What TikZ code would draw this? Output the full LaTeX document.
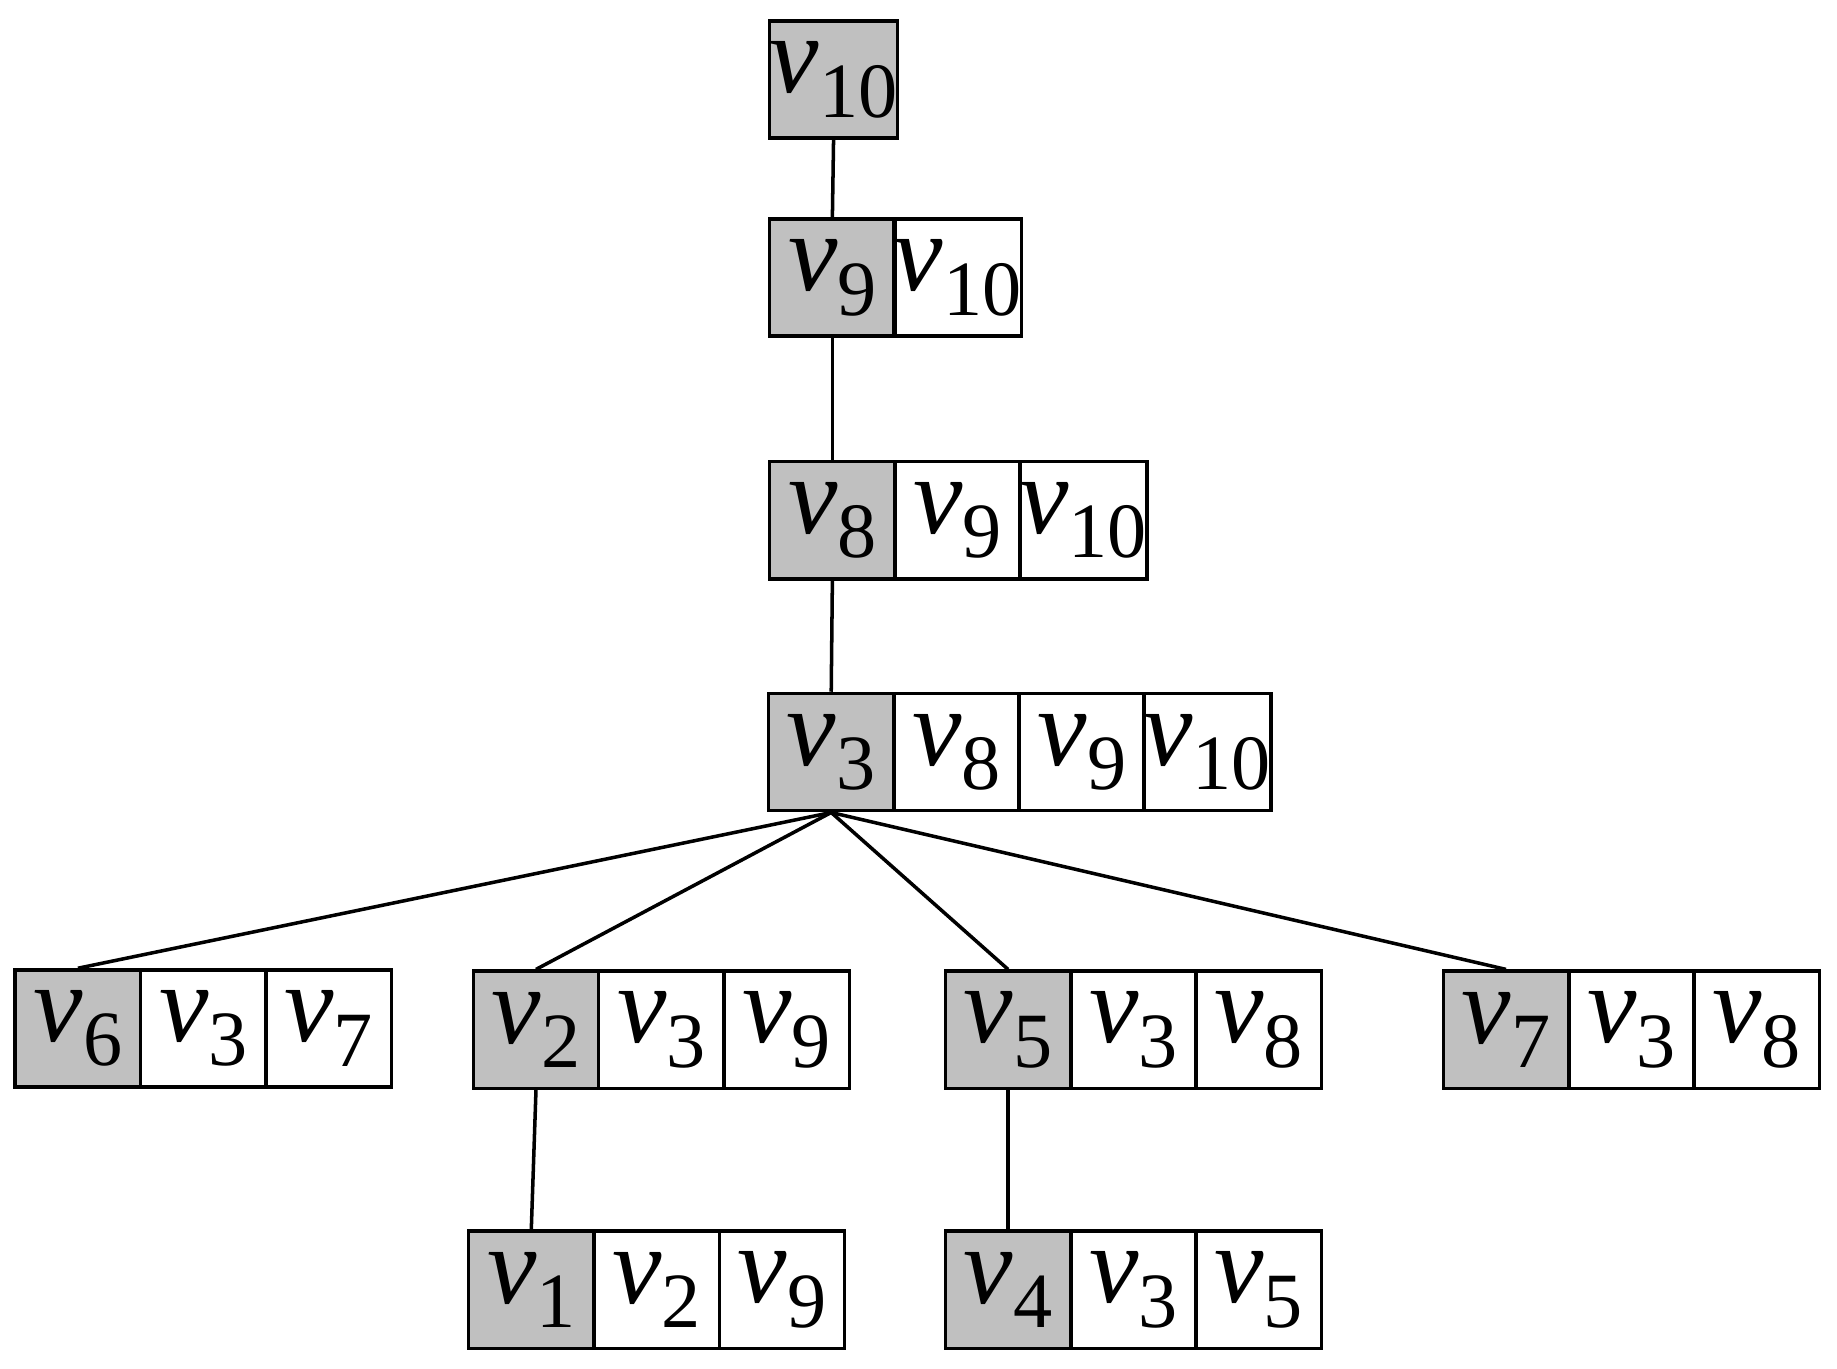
\documentclass[tikz,border=0pt]{standalone}
\usepackage{fontspec}
\setmainfont{Liberation Serif}
\definecolor{cg}{RGB}{192,192,192}
\newcommand\vv[1]{\fontsize{27}{30}\selectfont\textit{v}\raisebox{-0.22em}{\fontsize{19}{20}\selectfont #1}}
\newcommand\rowcells[5]{%
  \node[cell,fill=cg] (#1) at ({#2+53.5},{#3+50}) {\vv{#4}};
  \foreach \s [count=\i] in {#5} {
    \node[cell] (#1-\i) at ({#2+\i*107+53.5},{#3+50}) {\vv{\s}};
  }}
\begin{document}
\begin{tikzpicture}[x=0.01cm,y=-0.01cm,
  cell/.style={draw,line width=0.03cm,minimum width=1.07cm,minimum height=1.0cm,inner sep=0pt,anchor=center},
  edge/.style={line width=0.03cm}]
\useasboundingbox (0,0) rectangle (1568,1168);
\node[cell,fill=cg] (a10) at (711.5,68) {\vv{10}};
\rowcells{a9}{657}{187}{9}{10}
\rowcells{a8}{657}{394}{8}{9,10}
\rowcells{a3}{656}{592}{3}{8,9,10}
\rowcells{a6}{13}{828}{6}{3,7}
\rowcells{a2}{404}{829}{2}{3,9}
\rowcells{a5}{807}{829}{5}{3,8}
\rowcells{a7}{1232}{829}{7}{3,8}
\rowcells{a1}{400}{1051}{1}{2,9}
\rowcells{a4}{807}{1051}{4}{3,5}
\draw[edge] (a10.south) -- (a9.north);
\draw[edge] (a9.south) -- (a8.north);
\draw[edge] (a8.south) -- (a3.north);
\foreach \t in {a6,a2,a5,a7} \draw[edge] (a3.south) -- (\t.north);
\draw[edge] (a2.south) -- (a1.north);
\draw[edge] (a5.south) -- (a4.north);
\end{tikzpicture}
\end{document}
